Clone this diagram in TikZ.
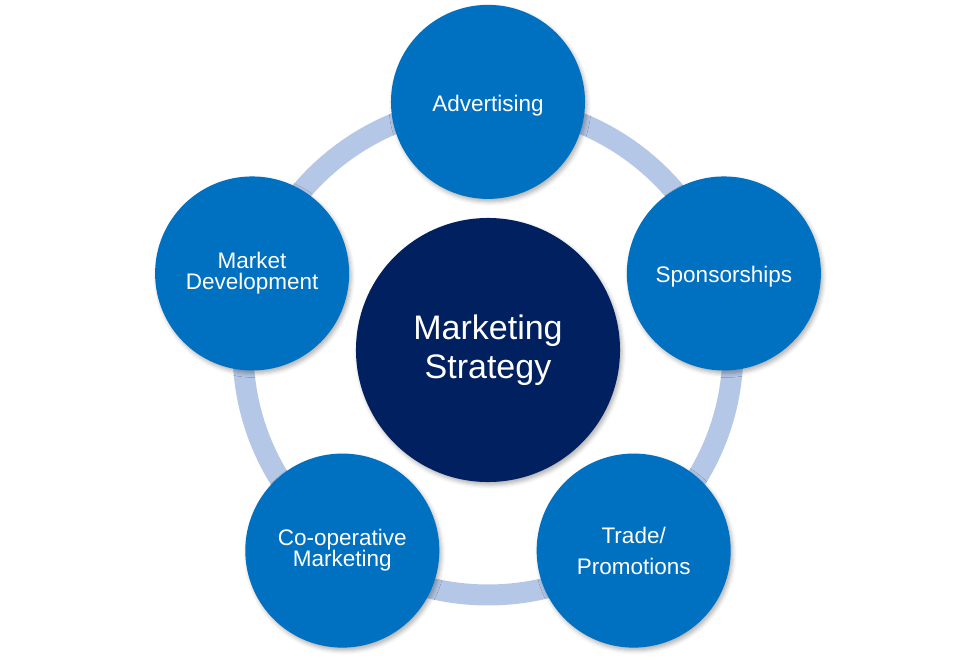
\documentclass[tikz,border=0pt]{standalone}
\usepackage{fontspec}
\setmainfont{Liberation Sans}
\usetikzlibrary{shadows.blur}
\definecolor{spokeblue}{RGB}{0,112,192}
\definecolor{coreblue}{RGB}{0,32,96}
\definecolor{ringblue}{RGB}{180,199,231}
\pgfdeclarelayer{bg}
\pgfsetlayers{bg,main}
\tikzset{
    every node/.style={circle, inner sep=0mm, text=white, align=center,
        blur shadow={shadow xshift=2pt, shadow yshift=-3pt, shadow blur radius=4pt, shadow opacity=30}}
}
\tikzset{spoke/.style={fill=spokeblue, minimum size=6.82cm, font=\fontsize{22.5}{21}\selectfont,
    execute at begin node={\rule{0pt}{23pt}}}}
\tikzset{core/.style={fill=coreblue, minimum size=9.28cm, font=\fontsize{34}{39}\selectfont,
    execute at begin node={\rule{0pt}{34pt}}}}
\tikzset{ring/.style={draw=ringblue, line width=21pt}}

\begin{document}
\begin{tikzpicture}
    \useasboundingbox (-488pt,-313pt) rectangle (488pt,350pt);

    \node (ms) [core] at (0cm, 0cm) {Marketing\\Strategy};

    \node (adv) [spoke] at (0cm, 8.72cm) {Advertising};
    \node (spon) [spoke] at (8.29cm, 2.69cm) {Sponsorships};
    \node (trade) [spoke] at (5.12cm, -7.05cm) {Trade/\\[10pt]Promotions};
    \node (coop) [spoke] at (-5.12cm, -7.05cm) {Co-operative\\Marketing};
    \node (mdev) [spoke] at (-8.29cm, 2.69cm) {Market\\Development};

    \begin{pgfonlayer}{bg}
        \draw[ring] (ms.center) circle [radius=8.61cm];
    \end{pgfonlayer}
\end{tikzpicture}
\end{document}
